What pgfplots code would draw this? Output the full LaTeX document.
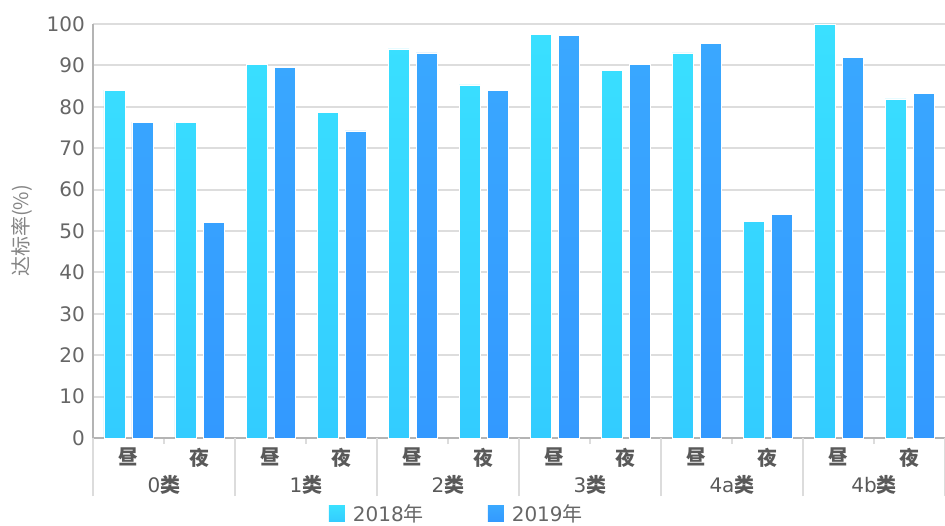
\documentclass[border=0pt]{standalone}
\usepackage{pgfplots}
\pgfplotsset{compat=1.18}
\usepackage{fontspec}
\setmainfont{DejaVu Sans}
\newfontfamily\cjk{Noto Sans CJK SC}

\definecolor{cA}{HTML}{3AE0FF}
\definecolor{cAb}{HTML}{33CCFF}
\definecolor{cB}{HTML}{3AA8FF}
\definecolor{cBb}{HTML}{3399FF}
\definecolor{txt}{HTML}{666666}
\definecolor{lbl}{HTML}{595959}
\definecolor{gridc}{HTML}{DDDDDD}
\definecolor{axisc}{HTML}{B4B4B4}
\definecolor{sepc}{HTML}{DCDCDC}

\newcommand{\lblsize}{\fontsize{20bp}{24bp}\selectfont}

\begin{document}
\begin{tikzpicture}
\path[use as bounding box] (-93bp,-88bp) rectangle (852bp,438bp);
\begin{axis}[
  at={(0,0)}, anchor=south west, scale only axis,
  width=852bp, height=414bp,
  clip=false,
  xmin=-0.5, xmax=11.5,
  ymin=0, ymax=100,
  ytick={0,10,...,100},
  ybar=7bp, bar width=21bp,
  axis x line*=bottom, axis y line*=left,
  axis line style={axisc, line width=2bp},
  ymajorgrids,
  major grid style={gridc, line width=2bp},
  tick align=outside,
  major tick length=0pt,
  ytick style={draw=none},
  xtick={0,...,11},
  xticklabels={昼,夜,昼,夜,昼,夜,昼,夜,昼,夜,昼,夜},
  xticklabel style={font=\lblsize\cjk\bfseries, text=lbl, inner ysep=0pt, yshift=-10bp},
  minor xtick={0.5,2.5,...,10.5},
  minor tick length=6bp,
  minor x tick style={sepc, line width=2bp},
  extra x ticks={-0.5,1.5,3.5,5.5,7.5,9.5,11.5},
  extra x tick labels={},
  extra x tick style={major tick length=58bp, tick style={sepc, line width=2bp}},
  /pgf/number format/assume math mode=true,
  yticklabel style={font=\lblsize, text=txt, inner xsep=0pt, xshift=-8bp},
  ylabel={达标率(\%)},
  every axis y label/.style={at={(axis description cs:-0.0833,0.5)}, rotate=90, anchor=center, font=\fontsize{20bp}{24bp}\selectfont\cjk, text=txt!80},
  legend columns=2,
  legend style={at={(axis description cs:0.427,-0.183)}, anchor=center, draw=none, fill=none,
    font=\lblsize, text=txt,
    /tikz/every odd column/.append style={column sep=6bp},
    /tikz/every even column/.append style={column sep=62bp}},
  legend image code/.code={\path[#1, draw=none] (0bp,-8bp) rectangle (16bp,8bp);},
]
% 2018
\addplot[draw=white, line width=0.5bp, top color=cA, bottom color=cAb]
  coordinates {(0,84.0) (1,76.3) (2,90.3) (3,78.7) (4,94.0) (5,85.3)
               (6,97.5) (7,88.8) (8,93.0) (9,52.3) (10,100.0) (11,81.9)};
% 2019
\addplot[draw=white, line width=0.5bp, top color=cB, bottom color=cBb]
  coordinates {(0,76.3) (1,52.0) (2,89.5) (3,74.2) (4,93.0) (5,84.0)
               (6,97.2) (7,90.2) (8,95.4) (9,54.1) (10,92.0) (11,83.3)};
\legend{2018{\cjk 年},2019{\cjk 年}}
% group names under each day/night pair
\begin{scope}[every node/.style={font=\lblsize, text=lbl, anchor=center, yshift=-47bp}]
\node at (axis cs:0.5,0)  {0{\cjk\bfseries 类}};
\node at (axis cs:2.5,0)  {1{\cjk\bfseries 类}};
\node at (axis cs:4.5,0)  {2{\cjk\bfseries 类}};
\node at (axis cs:6.5,0)  {3{\cjk\bfseries 类}};
\node at (axis cs:8.5,0)  {4a{\cjk\bfseries 类}};
\node at (axis cs:10.5,0) {4b{\cjk\bfseries 类}};
\end{scope}
\end{axis}
\end{tikzpicture}
\end{document}
